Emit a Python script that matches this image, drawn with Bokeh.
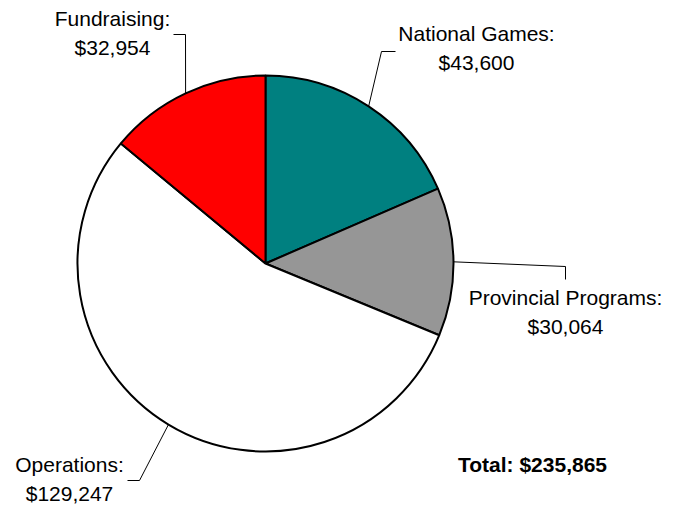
import math
from bokeh.plotting import figure
from bokeh.models import Range1d, ColumnDataSource
from bokeh.core.properties import value
from bokeh.embed import file_html
from bokeh.resources import INLINE

# ---- data ----
categories = ["National Games", "Provincial Programs", "Operations", "Fundraising"]
amounts = [43600, 30064, 129247, 32954]
colors = ["#008080", "#969696", "#FFFFFF", "#FF0000"]
total_label = "Total: $235,865"

# ---- layout (page pixel coords, y down) ----
W, H = 678, 506
def px(X): return X
def py(Y): return H - Y

cx, cy, R = px(265), py(263), 188
# elbow and end points of leader lines, label centres (screen coords)
elbows = [(381, 51), (565, 266), (139, 480), (185, 34)]
ends = [(395, 51), (565, 279), (127, 480), (173, 34)]
label_pos = [(476, 33), (565, 297), (69, 464), (112, 18)]
line_gap = 29

p = figure(width=W, height=H, output_backend="svg", toolbar_location=None,
           x_range=Range1d(0, W), y_range=Range1d(0, H), min_border=0)
p.axis.visible = False
p.grid.visible = False
p.outline_line_color = None
p.background_fill_color = "white"
p.border_fill_color = "white"

total = sum(amounts)
starts, stops, mids = [], [], []
cum = 0.0
for a in amounts:
    s = math.pi / 2 - 2 * math.pi * cum / total
    cum += a
    e = math.pi / 2 - 2 * math.pi * cum / total
    starts.append(s); stops.append(e); mids.append((s + e) / 2)

src = ColumnDataSource(dict(x=[cx] * 4, y=[cy] * 4, start=starts, end=stops, color=colors))
p.wedge(x="x", y="y", radius=R, start_angle="start", end_angle="end", direction="clock",
        fill_color="color", line_color="black", line_width=2, source=src)

# leader lines
xs, ys = [], []
for m, el, en in zip(mids, elbows, ends):
    x0 = cx + R * math.cos(m)
    y0 = cy + R * math.sin(m)
    xs.append([x0, px(el[0]), px(en[0])])
    ys.append([y0, py(el[1]), py(en[1])])
p.multi_line(xs=xs, ys=ys, line_color="black", line_width=1)

# labels
tx, ty, tt = [], [], []
for c, a, (lx, ly) in zip(categories, amounts, label_pos):
    tx += [px(lx), px(lx)]
    ty += [py(ly), py(ly + line_gap)]
    tt += [c + ":", "${:,}".format(a)]
p.text(x=tx, y=ty, text=tt, text_align="center", text_baseline="middle",
       text_font=value("Liberation Sans"), text_font_size="21px", text_color="black")

p.text(x=[px(532)], y=[py(464)], text=[total_label], text_align="center", text_baseline="middle",
       text_font=value("Liberation Sans"), text_font_size="21px", text_font_style="bold",
       text_color="black")

open("out.html", "w").write(file_html(p, INLINE))
